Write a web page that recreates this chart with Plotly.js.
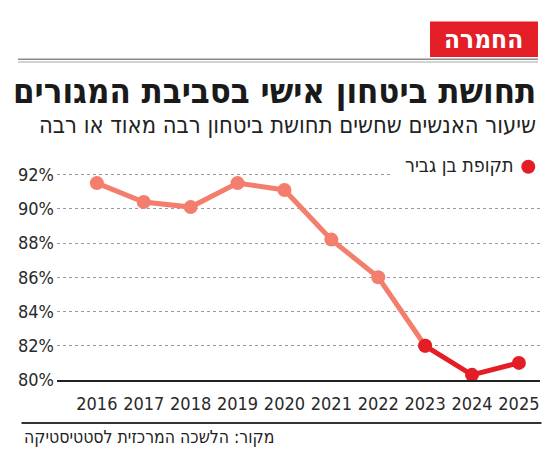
<!DOCTYPE html>
<html>
<head>
<meta charset="utf-8">
<script src="https://cdn.plot.ly/plotly-3.0.1.min.js"></script>
<style>
html,body{margin:0;padding:0;background:#fff;}
#chart{width:550px;height:473px;}
</style>
</head>
<body>
<div id="chart"></div>
<script>
// ---- data ----
var years = [2016, 2017, 2018, 2019, 2020, 2021, 2022, 2023, 2024, 2025];
var sharePct = [91.5, 90.4, 90.1, 91.5, 91.1, 88.2, 86.0, 82.0, 80.3, 81.0];
var benGvirStartYear = 2023;
var legendLabel = 'תקופת בן גביר';
var tagText = 'החמרה';
var titleText = 'תחושת ביטחון אישי בסביבת המגורים';
var subtitleText = 'שיעור האנשים שחשים תחושת ביטחון רבה מאוד או רבה';
var sourceText = 'מקור: הלשכה המרכזית לסטטיסטיקה';
var yTickVals = [80, 82, 84, 86, 88, 90, 92];
var yTickText = ['80%', '82%', '84%', '86%', '88%', '90%', '92%'];
var xTickText = ['2016', '2017', '2018', '2019', '2020', '2021', '2022', '2023', '2024', '2025'];

// split series
var beforeX = [], beforeY = [], afterX = [], afterY = [];
for (var i = 0; i < years.length; i++) {
  if (years[i] <= benGvirStartYear) { beforeX.push(years[i]); beforeY.push(sharePct[i]); }
  if (years[i] >= benGvirStartYear) { afterX.push(years[i]); afterY.push(sharePct[i]); }
}

// ---- layout helpers (pixel -> paper) ----
var W = 550, H = 473;
var M = {l: 57, r: 10, t: 166, b: 93};
var PW = W - M.l - M.r, PH = H - M.t - M.b;
function px(x) { return (x - M.l) / PW; }
function py(y) { return (H - M.b - y) / PH; }

var FONT = 'DejaVu Sans Condensed, Liberation Sans Narrow, sans-serif';
var SALMON = '#F37E6E', RED = '#E31E26';

var traces = [
  {x: beforeX, y: beforeY, type: 'scatter', mode: 'lines+markers',
   line: {color: SALMON, width: 5}, marker: {color: SALMON, size: 14},
   showlegend: false, hoverinfo: 'skip', cliponaxis: false},
  {x: afterX, y: afterY, type: 'scatter', mode: 'lines+markers',
   line: {color: RED, width: 5}, marker: {color: RED, size: 14},
   showlegend: false, hoverinfo: 'skip', cliponaxis: false}
];

var layout = {
  width: W, height: H,
  margin: M,
  paper_bgcolor: '#fff', plot_bgcolor: '#fff',
  font: {family: FONT, color: '#222'},
  showlegend: false,
  xaxis: {
    range: [2015.15, 2025.45], tickvals: years, ticktext: xTickText, tickangle: 0,
    showgrid: false, zeroline: false, showline: true, linecolor: '#222', linewidth: 2,
    ticks: '', tickfont: {size: 18, color: '#2a2a2a', family: FONT}, ticklabelstandoff: 6,
    fixedrange: true
  },
  yaxis: {
    range: [80, 92.5], tickvals: yTickVals, ticktext: yTickText,
    showgrid: true, gridcolor: '#9a9a9a', griddash: 'dot', gridwidth: 1,
    zeroline: false, showline: false, ticks: '',
    tickfont: {size: 18, color: '#2a2a2a', family: FONT}, ticklabelstandoff: 2,
    fixedrange: true
  },
  shapes: [
    // red tag box
    {type: 'rect', xref: 'paper', yref: 'paper', x0: px(430), x1: px(538), y0: py(57), y1: py(21.5),
     fillcolor: RED, line: {width: 0}, layer: 'above'},
    // double rule under header
    {type: 'line', xref: 'paper', yref: 'paper', x0: px(18), x1: px(538), y0: py(59.3), y1: py(59.3),
     line: {color: '#8a8a8a', width: 1.6}},
    {type: 'line', xref: 'paper', yref: 'paper', x0: px(18), x1: px(538), y0: py(62), y1: py(62),
     line: {color: '#c4c4c4', width: 1.4}},
    // source rule
    {type: 'line', xref: 'paper', yref: 'paper', x0: px(21.5), x1: px(541.5), y0: py(423), y1: py(423),
     line: {color: '#333', width: 2}},
    // legend background (breaks gridline)
    {type: 'rect', xref: 'paper', yref: 'paper', x0: px(390), x1: px(545), y0: py(178), y1: py(156),
     fillcolor: '#fff', line: {width: 0}, layer: 'above'},
    // legend dot
    {type: 'circle', xref: 'paper', yref: 'paper', xsizemode: 'pixel', ysizemode: 'pixel',
     xanchor: px(528.3), yanchor: py(166.7), x0: -7, x1: 7, y0: -7, y1: 7,
     fillcolor: RED, line: {width: 0}, layer: 'above'}
  ],
  annotations: [
    {text: '<b>' + tagText + '</b>', xref: 'paper', yref: 'paper', x: px(483), y: py(39),
     xanchor: 'center', yanchor: 'middle', showarrow: false,
     font: {size: 26, color: '#fff', family: FONT}},
    {text: '<b>' + titleText + '</b>', xref: 'paper', yref: 'paper', x: px(538), y: py(91),
     xanchor: 'right', yanchor: 'middle', showarrow: false,
     font: {size: 34.5, color: '#1a1a1a', family: FONT}},
    {text: subtitleText, xref: 'paper', yref: 'paper', x: px(538), y: py(125),
     xanchor: 'right', yanchor: 'middle', showarrow: false,
     font: {size: 23.5, color: '#222', family: FONT}},
    {text: legendLabel, xref: 'paper', yref: 'paper', x: px(516), y: py(165),
     xanchor: 'right', yanchor: 'middle', showarrow: false,
     font: {size: 19.5, color: '#222', family: FONT}},
    {text: sourceText, xref: 'paper', yref: 'paper', x: px(22), y: py(437),
     xanchor: 'left', yanchor: 'middle', showarrow: false,
     font: {size: 17.5, color: '#222', family: FONT}}
  ]
};

Plotly.newPlot('chart', traces, layout, {displayModeBar: false, staticPlot: true});
</script>
</body>
</html>
